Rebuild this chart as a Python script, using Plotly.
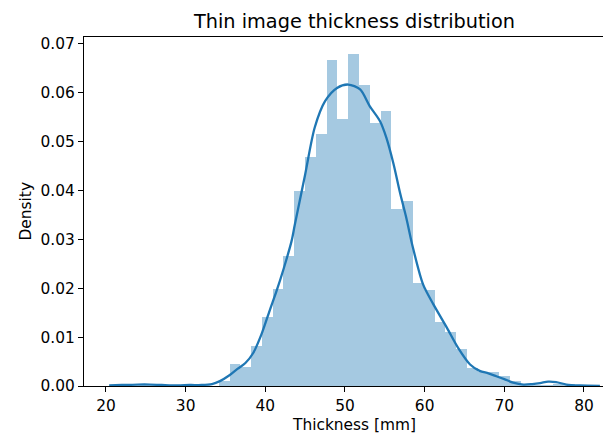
import plotly.graph_objects as go

# Histogram (density)
bin_start = 34.15
bin_width = 1.355
density = [0.0010, 0.0046, 0.0038, 0.0082, 0.0141, 0.0198, 0.0266, 0.0400,
           0.0469, 0.0516, 0.0667, 0.0547, 0.0680, 0.0616, 0.0539, 0.0563,
           0.0362, 0.0379, 0.0211, 0.0196, 0.0132, 0.0111, 0.0075, 0.0037,
           0.0029, 0.0028, 0.0020, 0.0010, 0.0003, 0.0002, 0.0003, 0.0005,
           0.0004]

# KDE curve
kde_x = [20.4, 22.0, 24.0, 25.5, 27.0, 29.0, 30.5, 32.0, 33.3, 34.3, 35.5,
         36.5, 37.5, 38.5, 39.5, 40.6, 41.4, 42.3, 43.3, 43.7, 45.0, 46.2,
         47.5, 49.0, 50.4, 51.9, 53.1, 54.4, 55.2, 56.1, 56.9, 57.7, 58.5,
         59.8, 61.1, 62.8, 64.2, 65.7, 66.9, 68.0, 69.0, 70.0, 71.1, 72.4,
         73.5, 74.5, 75.5, 76.5, 77.8, 79.5, 82.0]
kde_y = [0.0001, 0.0002, 0.0003, 0.0003, 0.0002, 0.0001, 0.0002, 0.0002,
         0.0004, 0.0010, 0.0022, 0.0035, 0.0047, 0.0068, 0.0105, 0.0157,
         0.0194, 0.0240, 0.0297, 0.0330, 0.0433, 0.0529, 0.0583, 0.0610,
         0.0617, 0.0607, 0.0573, 0.0542, 0.0508, 0.0454, 0.0396, 0.0344,
         0.0285, 0.0208, 0.0167, 0.0119, 0.0078, 0.0044, 0.0031, 0.0026,
         0.0020, 0.0014, 0.0007, 0.0003, 0.0004, 0.0006, 0.0009, 0.0008,
         0.0003, 0.0001, 0.0000]

x_ticks = [20, 30, 40, 50, 60, 70, 80]
y_ticks = [0.00, 0.01, 0.02, 0.03, 0.04, 0.05, 0.06, 0.07]

title = "Thin image thickness distribution"
x_label = "Thickness [mm]"
y_label = "Density"

centers = [bin_start + bin_width * (i + 0.5) for i in range(len(density))]

FONT = "DejaVu Sans, sans-serif"
fig = go.Figure()
fig.add_trace(go.Bar(x=centers, y=density, width=bin_width,
                     marker=dict(color="rgba(31,119,180,0.4)", line=dict(width=0)),
                     showlegend=False, hoverinfo="skip"))
fig.add_trace(go.Scatter(x=kde_x, y=kde_y, mode="lines",
                         line=dict(color="#1f77b4", width=2.3, shape="spline", smoothing=0.8),
                         showlegend=False))

# the page body adds an 8px offset at top/left
OFF = 8
W, H = 611 - OFF, 434 - OFF
L, T = 84 - OFF, 37 - OFF
B = H - (386 - OFF)
PW = W - L
fig.update_layout(
    width=W, height=H,
    margin=dict(l=L, r=0, t=T, b=B, pad=0),
    paper_bgcolor="white", plot_bgcolor="white",
    bargap=0,
    font=dict(family=FONT, size=15.4, color="black"),
    xaxis=dict(range=[17.24, 83.39], tickvals=x_ticks, ticks="outside", ticklen=5,
               tickwidth=1.2, tickcolor="black", showline=True, linecolor="black",
               linewidth=1.2, mirror=True, showgrid=False, zeroline=False,
               automargin=False,
               tickfont=dict(size=15.4, family=FONT, color="black")),
    yaxis=dict(range=[0, 0.07143], tickvals=y_ticks, tickformat=".2f", ticks="outside",
               ticklen=5, tickwidth=1.2, tickcolor="black", showline=True,
               linecolor="black", linewidth=1.2, showgrid=False, zeroline=False,
               automargin=False,
               tickfont=dict(size=15.4, family=FONT, color="black")),
    annotations=[
        dict(text=title, xref="paper", yref="paper", x=(354 - 84) / PW, y=1,
             yshift=16, xanchor="center", yanchor="middle", showarrow=False,
             font=dict(size=19.3, family=FONT, color="black")),
        dict(text=x_label, xref="paper", yref="paper", x=(354 - 84) / PW, y=0,
             yshift=-39, xanchor="center", yanchor="middle", showarrow=False,
             font=dict(size=15.4, family=FONT, color="black")),
        dict(text=y_label, xref="paper", yref="paper", x=0, xshift=-59, y=0.5,
             xanchor="center", yanchor="middle", textangle=-90, showarrow=False,
             font=dict(size=15.4, family=FONT, color="black")),
    ],
)
fig.write_html("out.html")
